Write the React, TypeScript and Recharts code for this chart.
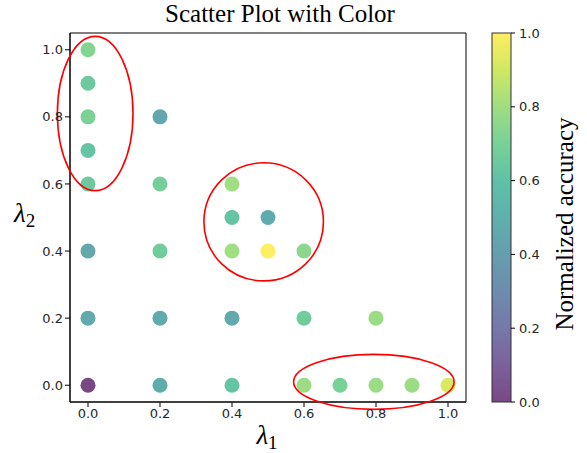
import React from 'react';
import { ScatterChart, Scatter, XAxis, YAxis, Cell, ReferenceDot, ReferenceArea, Label } from 'recharts';

// point coordinates and their normalized accuracy
const lambda1 = [0, 0, 0, 0, 0, 0, 0, 0, 0.2, 0.2, 0.2, 0.2, 0.2, 0.4, 0.4, 0.4, 0.4, 0.4, 0.5, 0.5, 0.6, 0.6, 0.8, 0.6, 0.7, 0.8, 0.9, 1.0];
const lambda2 = [1.0, 0.9, 0.8, 0.7, 0.6, 0.4, 0.2, 0, 0.8, 0.6, 0.4, 0.2, 0, 0.6, 0.5, 0.4, 0.2, 0, 0.5, 0.4, 0.4, 0.2, 0.2, 0, 0, 0, 0, 0];
const accuracy = [0.73, 0.66, 0.71, 0.62, 0.66, 0.46, 0.47, 0.0, 0.45, 0.69, 0.67, 0.47, 0.48, 0.8, 0.62, 0.8, 0.47, 0.62, 0.47, 1.0, 0.75, 0.67, 0.79, 0.79, 0.7, 0.79, 0.79, 0.92];

const ticks = [0, 0.2, 0.4, 0.6, 0.8, 1.0];

// highlight ellipses: centre in data units, radii in data units
const ellipseX = [0.02, 0.488, 0.794];
const ellipseY = [0.81, 0.487, 0.01];
const ellipseRx = [0.105, 0.166, 0.223];
const ellipseRy = [0.23, 0.176, 0.082];

const VIRIDIS = ['#440154', '#482475', '#414487', '#355f8d', '#2a788e', '#21918c', '#22a884', '#44bf70', '#7ad151', '#bddf26', '#fde725'];

function hexToRgb(h: string) {
    return [parseInt(h.slice(1, 3), 16), parseInt(h.slice(3, 5), 16), parseInt(h.slice(5, 7), 16)];
}

function viridis(t: number) {
    const v = Math.max(0, Math.min(1, t)) * 10;
    const i = Math.min(9, Math.floor(v));
    const f = v - i;
    const a = hexToRgb(VIRIDIS[i]);
    const b = hexToRgb(VIRIDIS[i + 1]);
    const c = a.map((x, k) => Math.round(x + (b[k] - x) * f));
    return `rgb(${c[0]},${c[1]},${c[2]})`;
}

const data = lambda1.map((x, i) => ({ x, y: lambda2[i], acc: accuracy[i] }));

const W = 587;
const H = 453;
const PLOT_L = 70, PLOT_R = 466, PLOT_T = 33, PLOT_B = 402;
const pxX = (PLOT_R - PLOT_L) / 1.1;
const pxY = (PLOT_B - PLOT_T) / 1.1;

const tickStyle = { fontFamily: 'DejaVu Sans', fontSize: 13, fill: '#262626' };
const fmt = (v: number) => v.toFixed(1);

const CB_L = 492, CB_R = 511;

export default function App() {
    return (
        <div style={{ position: 'absolute', left: 0, top: 0, width: W, height: H, background: '#fff' }}>
            <ScatterChart width={W} height={H} margin={{ top: PLOT_T, right: W - PLOT_R, bottom: 1, left: 30 }}>
                <XAxis
                    type="number"
                    dataKey="x"
                    domain={[-0.05, 1.05]}
                    ticks={ticks}
                    tickFormatter={fmt}
                    tick={tickStyle}
                    tickSize={5}
                    height={50}
                    stroke="#000"
                    tickLine={{ stroke: '#000' }}
                >
                    <Label
                        content={() => (
                            <text x={267} y={444} fontFamily="Liberation Serif" fontStyle="italic" fontSize={27} textAnchor="middle" fill="#000">
                                λ<tspan fontStyle="normal" fontSize={19} dy={5}>1</tspan>
                            </text>
                        )}
                    />
                </XAxis>
                <YAxis
                    type="number"
                    dataKey="y"
                    domain={[-0.05, 1.05]}
                    ticks={ticks}
                    tickFormatter={fmt}
                    tick={tickStyle}
                    tickSize={5}
                    width={40}
                    stroke="#000"
                    tickLine={{ stroke: '#000' }}
                >
                    <Label
                        content={() => (
                            <text x={14} y={222} fontFamily="Liberation Serif" fontStyle="italic" fontSize={27} fill="#000">
                                λ<tspan fontStyle="normal" fontSize={19} dy={5}>2</tspan>
                            </text>
                        )}
                    />
                </YAxis>
                <ReferenceArea x1={-0.05} x2={1.05} y1={-0.05} y2={1.05} fill="none" stroke="#000" strokeWidth={1} ifOverflow="visible" />
                <Scatter data={data} isAnimationActive={false} shape={(p: any) => <circle cx={p.cx} cy={p.cy} r={7.5} fill={p.fill} fillOpacity={0.72} />}>
                    {data.map((d, i) => (
                        <Cell key={`c-${i}`} fill={viridis(d.acc)} />
                    ))}
                </Scatter>
                {ellipseX.map((ex, i) => (
                    <ReferenceDot
                        key={`e-${i}`}
                        x={ex}
                        y={ellipseY[i]}
                        ifOverflow="visible"
                        shape={(p: any) => (
                            <ellipse cx={p.cx} cy={p.cy} rx={ellipseRx[i] * pxX} ry={ellipseRy[i] * pxY} fill="none" stroke="#ff0000" strokeWidth={1.6} />
                        )}
                    />
                ))}
            </ScatterChart>
            <svg width={W} height={H} style={{ position: 'absolute', left: 0, top: 0, pointerEvents: 'none' }}>
                <defs>
                    <linearGradient id="vir" x1="0" y1="1" x2="0" y2="0">
                        {VIRIDIS.map((c, i) => (
                            <stop key={i} offset={`${i * 10}%`} stopColor={c} stopOpacity={0.72} />
                        ))}
                    </linearGradient>
                </defs>
                <text x={280} y={22} textAnchor="middle" fontFamily="Liberation Serif" fontSize={25} fill="#000">Scatter Plot with Color</text>
                <rect x={CB_L} y={PLOT_T} width={CB_R - CB_L} height={PLOT_B - PLOT_T} fill="url(#vir)" stroke="#333" strokeWidth={1} />
                {ticks.map((t) => {
                    const y = PLOT_B - (PLOT_B - PLOT_T) * t;
                    return (
                        <g key={t}>
                            <line x1={CB_R} x2={CB_R + 4} y1={y} y2={y} stroke="#000" />
                            <text x={CB_R + 8} y={y + 4.5} {...tickStyle}>{fmt(t)}</text>
                        </g>
                    );
                })}
                <text x={573} y={224} textAnchor="middle" transform="rotate(-90 573 224)" fontFamily="Liberation Serif" fontSize={25} fill="#000">Normalized accuracy</text>
            </svg>
        </div>
    );
}
